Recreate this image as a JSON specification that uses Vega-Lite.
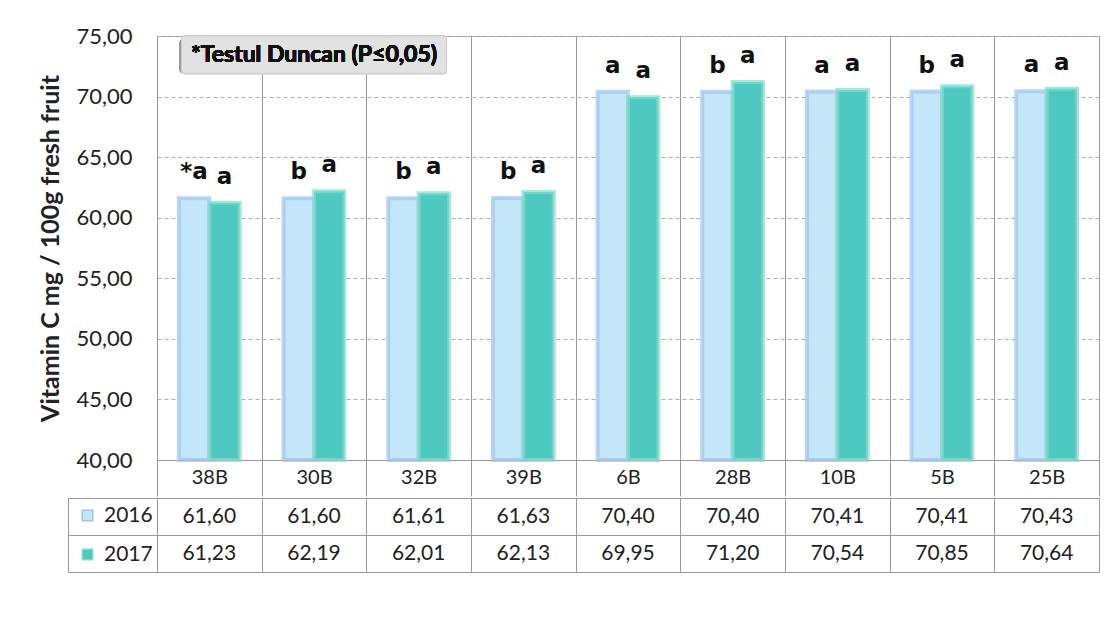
{
  "$schema": "https://vega.github.io/schema/vega-lite/v6.json",
  "background": "white",
  "padding": {"left": 38, "top": 24, "right": 4, "bottom": 0},
  "config": {
    "font": "Lato",
    "locale": {"number": {"decimal": ",", "thousands": ".", "grouping": [3], "currency": ["", ""]}},
    "view": {"stroke": "#9a9a9a", "strokeWidth": 1},
    "concat": {"spacing": 0}
  },
  "datasets": {
    "vit": [
      {"cultivar": "38B", "year": "2016", "value": 61.60, "letter": "*a"},
      {"cultivar": "38B", "year": "2017", "value": 61.23, "letter": "a"},
      {"cultivar": "30B", "year": "2016", "value": 61.60, "letter": "b"},
      {"cultivar": "30B", "year": "2017", "value": 62.19, "letter": "a"},
      {"cultivar": "32B", "year": "2016", "value": 61.61, "letter": "b"},
      {"cultivar": "32B", "year": "2017", "value": 62.01, "letter": "a"},
      {"cultivar": "39B", "year": "2016", "value": 61.63, "letter": "b"},
      {"cultivar": "39B", "year": "2017", "value": 62.13, "letter": "a"},
      {"cultivar": "6B", "year": "2016", "value": 70.40, "letter": "a"},
      {"cultivar": "6B", "year": "2017", "value": 69.95, "letter": "a"},
      {"cultivar": "28B", "year": "2016", "value": 70.40, "letter": "b"},
      {"cultivar": "28B", "year": "2017", "value": 71.20, "letter": "a"},
      {"cultivar": "10B", "year": "2016", "value": 70.41, "letter": "a"},
      {"cultivar": "10B", "year": "2017", "value": 70.54, "letter": "a"},
      {"cultivar": "5B", "year": "2016", "value": 70.41, "letter": "b"},
      {"cultivar": "5B", "year": "2017", "value": 70.85, "letter": "a"},
      {"cultivar": "25B", "year": "2016", "value": 70.43, "letter": "a"},
      {"cultivar": "25B", "year": "2017", "value": 70.64, "letter": "a"}
    ]
  },
  "vconcat": [
    {
      "width": 942,
      "height": 424,
      "data": {"name": "vit"},
      "encoding": {
        "x": {
          "field": "cultivar",
          "type": "nominal",
          "sort": ["38B", "30B", "32B", "39B", "6B", "28B", "10B", "5B", "25B"],
          "scale": {"paddingInner": 0, "paddingOuter": 0},
          "axis": {
            "title": null,
            "labelAngle": 0,
            "labelFontSize": 20,
            "labelColor": "#222",
            "labelPadding": -29,
            "tickSize": 36,
            "tickColor": "#9a9a9a",
            "tickBand": "extent",
            "domainColor": "#9a9a9a",
            "grid": true,
            "gridColor": "#9a9a9a",
            "gridDash": []
          }
        }
      },
      "layer": [
        {
          "mark": {"type": "bar", "width": 265, "fill": "#9a9a9a", "fillOpacity": 0.35, "xOffset": -2, "yOffset": 3, "cornerRadius": 4},
          "encoding": {
            "x": {"datum": "30B"},
            "y": {"datum": 75},
            "y2": {"datum": 71.9}
          }
        },
        {
          "mark": {"type": "bar", "width": 265, "fill": "#e2e2e2", "fillOpacity": 0.85, "stroke": "#cfcfcf", "strokeWidth": 1, "cornerRadius": 3},
          "encoding": {
            "x": {"datum": "30B"},
            "y": {"datum": 75},
            "y2": {"datum": 71.9}
          }
        },
        {
          "mark": {"type": "text", "text": "*Testul Duncan (P≤0,05)", "font": "Lato", "fontWeight": "bold", "fontSize": 23, "color": "#111", "baseline": "middle"},
          "encoding": {
            "x": {"datum": "30B"},
            "y": {"datum": 73.45}
          }
        },
        {
          "mark": {"type": "bar", "strokeWidth": 4, "strokeOpacity": 0.7},
          "encoding": {
            "xOffset": {"field": "year", "type": "nominal", "scale": {"paddingOuter": 0.72, "paddingInner": 0}},
            "y": {
              "field": "value",
              "type": "quantitative",
              "scale": {"domain": [40, 75], "nice": false, "zero": false},
              "axis": {
                "title": "Vitamin C mg / 100g fresh fruit",
                "titleFontSize": 25,
                "titleFontWeight": "bold",
                "titleColor": "#222",
                "titlePadding": 12,
                "values": [40, 45, 50, 55, 60, 65, 70, 75],
                "format": ".2f",
                "labelFontSize": 22,
                "labelColor": "#222",
                "labelPadding": 25,
                "ticks": false,
                "domain": false,
                "grid": true,
                "gridColor": "#b0b0b0",
                "gridDash": [4, 3]
              }
            },
            "y2": {"datum": 40},
            "color": {
              "field": "year",
              "type": "nominal",
              "scale": {"domain": ["2016", "2017"], "range": ["#c3e7f9", "#4dc9c1"]},
              "legend": {
                "title": null,
                "orient": "none",
                "legendX": -80,
                "legendY": 469,
                "symbolType": "square",
                "symbolSize": 110,
                "labelFontSize": 21,
                "labelColor": "#222",
                "rowPadding": 17,
                "labelOffset": 6
              }
            },
            "stroke": {
              "field": "year",
              "type": "nominal",
              "scale": {"domain": ["2016", "2017"], "range": ["#9fc3ef", "#86dcca"]},
              "legend": null
            }
          }
        },
        {
          "mark": {"type": "text", "font": "DejaVu Sans", "fontWeight": "bold", "fontSize": 23, "color": "#111", "baseline": "middle", "dy": -26},
          "encoding": {
            "xOffset": {"field": "year", "type": "nominal", "scale": {"paddingOuter": 0.72, "paddingInner": 0}},
            "y": {"field": "value", "type": "quantitative"},
            "text": {"field": "letter"}
          }
        }
      ]
    },
    {
      "width": 942,
      "height": 74,
      "data": {"name": "vit"},
      "mark": {"type": "text", "fontSize": 21, "color": "#222", "font": "Lato"},
      "encoding": {
        "x": {
          "field": "cultivar",
          "type": "nominal",
          "sort": ["38B", "30B", "32B", "39B", "6B", "28B", "10B", "5B", "25B"],
          "scale": {"paddingInner": 0, "paddingOuter": 0},
          "axis": {"title": null, "labels": false, "ticks": false, "domain": false, "grid": true, "gridColor": "#9a9a9a", "tickBand": "extent"}
        },
        "y": {
          "field": "year",
          "type": "nominal",
          "scale": {"domain": ["2016", "2017"], "paddingInner": 0, "paddingOuter": 0},
          "axis": {"title": null, "labels": false, "offset": 89, "tickSize": -89, "tickColor": "#9a9a9a", "domainColor": "#9a9a9a", "tickBand": "extent", "grid": true, "gridColor": "#9a9a9a"}
        },
        "text": {"field": "value", "type": "quantitative", "format": ".2f"}
      }
    }
  ]
}
